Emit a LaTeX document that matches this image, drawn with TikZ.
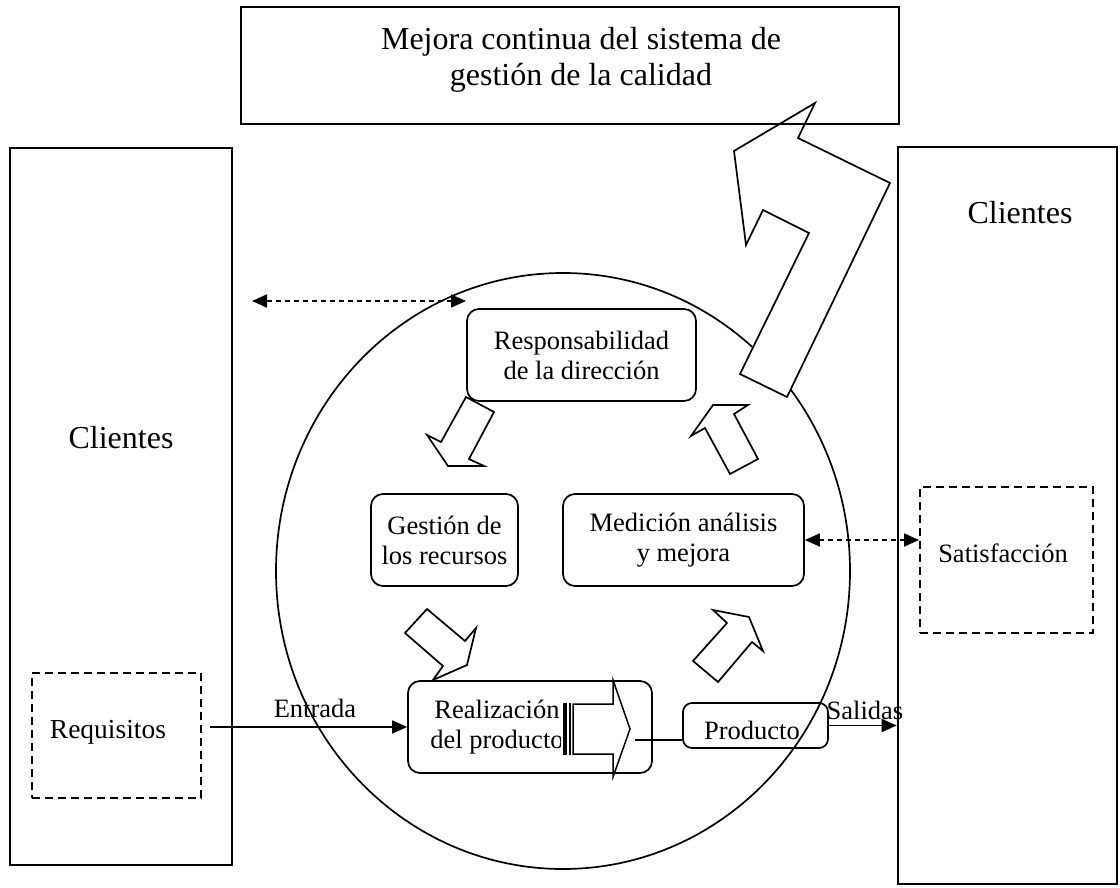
\documentclass[tikz,border=0pt]{standalone}
\usepackage{fontspec}
\setmainfont{Liberation Serif}
\usetikzlibrary{arrows.meta,shapes.geometric}

\tikzset{
  big/.style={font=\fontsize{32}{36}\selectfont},
  small/.style={font=\fontsize{26.5}{30}\selectfont},
  txt/.style={inner sep=0pt, align=center},
  frame/.style={draw, line width=2.6pt, rectangle, inner sep=0pt},
  topframe/.style={draw, line width=1.9pt, rectangle, inner sep=0pt},
  rbox/.style={draw, line width=1.7pt, rounded corners=12pt, inner sep=0pt, align=center, small},
  dbox/.style={draw, line width=2pt, dash pattern=on 8pt off 5pt, inner sep=0pt},
  blockarrow/.style={draw, line width=1.7pt, fill=white, line join=miter},
  flow/.style={line width=1.7pt, ->},
  dflow/.style={line width=1.8pt, dash pattern=on 5pt off 4pt, <->},
  >={Triangle[length=15pt,width=13pt]},
}

\begin{document}
\begin{tikzpicture}[x=1pt, y=-1pt]
\useasboundingbox (0,0) rectangle (1120,888);

% process circle
\node[draw, ellipse, line width=1.7pt, minimum width=574pt, minimum height=596pt, inner sep=0pt] (proc) at (563,571) {};

% customer columns
\node[frame, minimum width=222pt, minimum height=717pt] (cliL) at (121,506.5) {};
\node[big, txt] (cliLt) at (121,438) {Clientes};
\node[frame, minimum width=219pt, minimum height=737pt] (cliR) at (1007.5,515.5) {};
\node[big, txt] (cliRt) at (1020,213) {Clientes};

% requirements and satisfaction
\node[dbox, minimum width=169pt, minimum height=125pt] (req) at (116.5,735.5) {};
\node[txt, font=\fontsize{27.5}{31}\selectfont] (reqt) at (108,732) {Requisitos};
\node[dbox, minimum width=173pt, minimum height=146pt] (sat) at (1006.5,560) {};
\node[small, txt] (satt) at (1003,553) {Satisfacción};

% process boxes
\node[rbox, minimum width=229pt, minimum height=92pt] (resp) at (581.5,355) {Responsabilidad\\de la dirección};
\node[rbox, minimum width=147pt, minimum height=92pt] (gest) at (444.5,540) {Gestión de\\los recursos};
\node[rbox, minimum width=241pt, minimum height=92pt] (med) at (683.5,540) {Medición análisis\\y mejora};
\node[rbox, minimum width=244pt, minimum height=92pt] (real) at (530,727) {};
\node[small, txt] (realt) at (497,727) {Realización\\del producto};
\node[rbox, rounded corners=9pt, minimum width=145pt, minimum height=45pt] (prod) at (755.5,725.5) {};
\node[small, txt] (prodt) at (752,730) {Producto};

% striped arrow inside the realization box
\fill[white] (561,702) rectangle (573,756);
\fill (563,703) rectangle (567,755);
\fill (569,703) rectangle (571,755);
\draw[blockarrow, line width=1.5pt] (573,704) -- (613,704) -- (613,680) -- (630,729) -- (613,777) -- (613,754) -- (573,754) -- cycle;
\coordinate (ptip) at (635,740);
\draw[line width=1.5pt] (ptip) -- (ptip -| prod.west);

% block arrows of the cycle
\draw[blockarrow] (466,397) -- (494,412) -- (469,459) -- (484,466) -- (448,466) -- (427,435) -- (441,442) -- cycle;
\draw[blockarrow] (427,609) -- (465,641) -- (476,628) -- (467,665) -- (433,680) -- (443,666) -- (405,633) -- cycle;
\draw[blockarrow] (718,682) -- (752,642) -- (763,651) -- (749,617) -- (713,610) -- (727,623) -- (693,661) -- cycle;
\draw[blockarrow] (730,474) -- (758,459) -- (734,414) -- (748,405) -- (713,405) -- (691,436) -- (705,428) -- cycle;

% continual improvement arrow
\draw[blockarrow] (740,374) -- (809,233) -- (763,210) -- (746,245) -- (734,151) -- (815,103) -- (798,138) -- (890,183) -- (787,397) -- cycle;

% improvement box
\node[topframe, minimum width=658pt, minimum height=117pt] (mejora) at (570,65.5) {};
\node[big, txt] (mejorat) at (581,60) {Mejora continua del sistema de\\gestión de la calidad};

% flows
\draw[flow] ([xshift=8pt]req.east |- real.west) -- (real.west);
\node[small, txt] (entrada) at (315,708) {Entrada};
\draw[flow] (prod.east) -- (prod.east -| cliR.west);
\node[small, txt] (salidas) at (865,710) {Salidas};

% information exchange
\coordinate (dl) at (252,301);
\coordinate (dr) at (466,301);
\draw[dflow] (dl) -- (dr);
\draw[dflow] (med.east) -- (sat.west |- med.east);
\end{tikzpicture}
\end{document}
